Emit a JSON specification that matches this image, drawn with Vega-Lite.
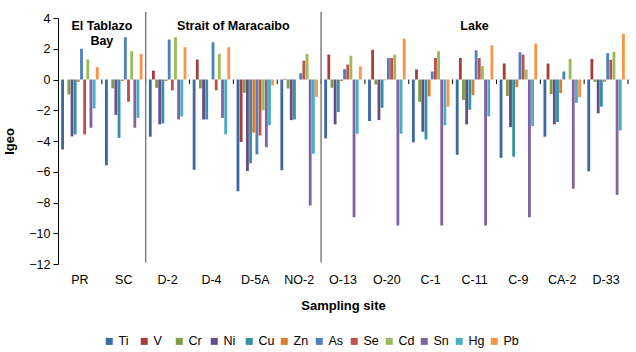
{
  "$schema": "https://vega.github.io/schema/vega-lite/v6.json",
  "width": 570,
  "height": 246,
  "autosize": {"type": "none"},
  "padding": {"left": 58, "top": 18, "right": 8, "bottom": 88},
  "background": "white",
  "config": {
    "view": {"stroke": null},
    "font": "Liberation Sans",
    "axis": {"grid": false, "labelColor": "#000", "titleColor": "#000"},
    "text": {"font": "Liberation Sans"}
  },
  "datasets": {
    "igeo": [
      {"site":"PR","metal":"Ti","igeo":-4.55},{"site":"PR","metal":"V","igeo":0},{"site":"PR","metal":"Cr","igeo":-0.97},{"site":"PR","metal":"Ni","igeo":-3.7},{"site":"PR","metal":"Cu","igeo":-3.57},{"site":"PR","metal":"Zn","igeo":-0.15},{"site":"PR","metal":"As","igeo":2.0},{"site":"PR","metal":"Se","igeo":-3.57},{"site":"PR","metal":"Cd","igeo":1.3},{"site":"PR","metal":"Sn","igeo":-3.14},{"site":"PR","metal":"Hg","igeo":-1.88},{"site":"PR","metal":"Pb","igeo":0.8},
      {"site":"SC","metal":"Ti","igeo":-5.58},{"site":"SC","metal":"V","igeo":0},{"site":"SC","metal":"Cr","igeo":-0.58},{"site":"SC","metal":"Ni","igeo":-2.3},{"site":"SC","metal":"Cu","igeo":-3.8},{"site":"SC","metal":"Zn","igeo":-0.1},{"site":"SC","metal":"As","igeo":2.75},{"site":"SC","metal":"Se","igeo":-1.45},{"site":"SC","metal":"Cd","igeo":1.84},{"site":"SC","metal":"Sn","igeo":-3.14},{"site":"SC","metal":"Hg","igeo":-2.5},{"site":"SC","metal":"Pb","igeo":1.67},
      {"site":"D-2","metal":"Ti","igeo":-3.72},{"site":"D-2","metal":"V","igeo":0.58},{"site":"D-2","metal":"Cr","igeo":-0.54},{"site":"D-2","metal":"Ni","igeo":-2.92},{"site":"D-2","metal":"Cu","igeo":-2.86},{"site":"D-2","metal":"Zn","igeo":-0.1},{"site":"D-2","metal":"As","igeo":2.6},{"site":"D-2","metal":"Se","igeo":-0.71},{"site":"D-2","metal":"Cd","igeo":2.75},{"site":"D-2","metal":"Sn","igeo":-2.6},{"site":"D-2","metal":"Hg","igeo":-2.4},{"site":"D-2","metal":"Pb","igeo":2.1},
      {"site":"D-4","metal":"Ti","igeo":-5.87},{"site":"D-4","metal":"V","igeo":1.3},{"site":"D-4","metal":"Cr","igeo":-0.58},{"site":"D-4","metal":"Ni","igeo":-2.6},{"site":"D-4","metal":"Cu","igeo":-2.6},{"site":"D-4","metal":"Zn","igeo":0},{"site":"D-4","metal":"As","igeo":2.42},{"site":"D-4","metal":"Se","igeo":-0.71},{"site":"D-4","metal":"Cd","igeo":1.67},{"site":"D-4","metal":"Sn","igeo":-2.5},{"site":"D-4","metal":"Hg","igeo":-3.57},{"site":"D-4","metal":"Pb","igeo":2.1},
      {"site":"D-5A","metal":"Ti","igeo":-7.27},{"site":"D-5A","metal":"V","igeo":-4.07},{"site":"D-5A","metal":"Cr","igeo":-0.87},{"site":"D-5A","metal":"Ni","igeo":-5.95},{"site":"D-5A","metal":"Cu","igeo":-5.45},{"site":"D-5A","metal":"Zn","igeo":-3.46},{"site":"D-5A","metal":"As","igeo":-4.87},{"site":"D-5A","metal":"Se","igeo":-3.64},{"site":"D-5A","metal":"Cd","igeo":-2.0},{"site":"D-5A","metal":"Sn","igeo":-4.4},{"site":"D-5A","metal":"Hg","igeo":-2.97},{"site":"D-5A","metal":"Pb","igeo":-0.39},
      {"site":"NO-2","metal":"Ti","igeo":-5.9},{"site":"NO-2","metal":"V","igeo":0.05},{"site":"NO-2","metal":"Cr","igeo":-0.58},{"site":"NO-2","metal":"Ni","igeo":-2.64},{"site":"NO-2","metal":"Cu","igeo":-2.6},{"site":"NO-2","metal":"Zn","igeo":0},{"site":"NO-2","metal":"As","igeo":0.41},{"site":"NO-2","metal":"Se","igeo":1.23},{"site":"NO-2","metal":"Cd","igeo":1.67},{"site":"NO-2","metal":"Sn","igeo":-8.2},{"site":"NO-2","metal":"Hg","igeo":-4.83},{"site":"NO-2","metal":"Pb","igeo":-1.13},
      {"site":"O-13","metal":"Ti","igeo":-3.83},{"site":"O-13","metal":"V","igeo":1.62},{"site":"O-13","metal":"Cr","igeo":-0.54},{"site":"O-13","metal":"Ni","igeo":-2.92},{"site":"O-13","metal":"Cu","igeo":-2.12},{"site":"O-13","metal":"Zn","igeo":-0.1},{"site":"O-13","metal":"As","igeo":0.67},{"site":"O-13","metal":"Se","igeo":0.97},{"site":"O-13","metal":"Cd","igeo":1.54},{"site":"O-13","metal":"Sn","igeo":-8.96},{"site":"O-13","metal":"Hg","igeo":-3.53},{"site":"O-13","metal":"Pb","igeo":0.84},
      {"site":"O-20","metal":"Ti","igeo":-2.7},{"site":"O-20","metal":"V","igeo":1.93},{"site":"O-20","metal":"Cr","igeo":-0.32},{"site":"O-20","metal":"Ni","igeo":-2.64},{"site":"O-20","metal":"Cu","igeo":-1.84},{"site":"O-20","metal":"Zn","igeo":-0.05},{"site":"O-20","metal":"As","igeo":1.4},{"site":"O-20","metal":"Se","igeo":1.4},{"site":"O-20","metal":"Cd","igeo":1.62},{"site":"O-20","metal":"Sn","igeo":-9.5},{"site":"O-20","metal":"Hg","igeo":-3.53},{"site":"O-20","metal":"Pb","igeo":2.66},
      {"site":"C-1","metal":"Ti","igeo":-4.09},{"site":"C-1","metal":"V","igeo":0.65},{"site":"C-1","metal":"Cr","igeo":-1.45},{"site":"C-1","metal":"Ni","igeo":-3.4},{"site":"C-1","metal":"Cu","igeo":-3.9},{"site":"C-1","metal":"Zn","igeo":-1.1},{"site":"C-1","metal":"As","igeo":0.52},{"site":"C-1","metal":"Se","igeo":1.4},{"site":"C-1","metal":"Cd","igeo":1.84},{"site":"C-1","metal":"Sn","igeo":-9.5},{"site":"C-1","metal":"Hg","igeo":-2.97},{"site":"C-1","metal":"Pb","igeo":-1.77},
      {"site":"C-11","metal":"Ti","igeo":-4.9},{"site":"C-11","metal":"V","igeo":1.4},{"site":"C-11","metal":"Cr","igeo":-1.34},{"site":"C-11","metal":"Ni","igeo":-2.92},{"site":"C-11","metal":"Cu","igeo":-1.97},{"site":"C-11","metal":"Zn","igeo":-1.02},{"site":"C-11","metal":"As","igeo":1.9},{"site":"C-11","metal":"Se","igeo":1.4},{"site":"C-11","metal":"Cd","igeo":0.87},{"site":"C-11","metal":"Sn","igeo":-9.5},{"site":"C-11","metal":"Hg","igeo":-2.4},{"site":"C-11","metal":"Pb","igeo":2.23},
      {"site":"C-9","metal":"Ti","igeo":-5.09},{"site":"C-9","metal":"V","igeo":1.04},{"site":"C-9","metal":"Cr","igeo":-1.08},{"site":"C-9","metal":"Ni","igeo":-3.1},{"site":"C-9","metal":"Cu","igeo":-5.02},{"site":"C-9","metal":"Zn","igeo":-0.5},{"site":"C-9","metal":"As","igeo":1.77},{"site":"C-9","metal":"Se","igeo":1.62},{"site":"C-9","metal":"Cd","igeo":0.65},{"site":"C-9","metal":"Sn","igeo":-8.96},{"site":"C-9","metal":"Hg","igeo":-3.03},{"site":"C-9","metal":"Pb","igeo":2.34},
      {"site":"CA-2","metal":"Ti","igeo":-3.72},{"site":"CA-2","metal":"V","igeo":1.04},{"site":"CA-2","metal":"Cr","igeo":-0.95},{"site":"CA-2","metal":"Ni","igeo":-2.92},{"site":"CA-2","metal":"Cu","igeo":-2.77},{"site":"CA-2","metal":"Zn","igeo":-0.89},{"site":"CA-2","metal":"As","igeo":0.52},{"site":"CA-2","metal":"Se","igeo":0},{"site":"CA-2","metal":"Cd","igeo":1.34},{"site":"CA-2","metal":"Sn","igeo":-7.1},{"site":"CA-2","metal":"Hg","igeo":-1.52},{"site":"CA-2","metal":"Pb","igeo":-1.15},
      {"site":"D-33","metal":"Ti","igeo":-5.97},{"site":"D-33","metal":"V","igeo":1.34},{"site":"D-33","metal":"Cr","igeo":-0.15},{"site":"D-33","metal":"Ni","igeo":-2.2},{"site":"D-33","metal":"Cu","igeo":-1.77},{"site":"D-33","metal":"Zn","igeo":-0.15},{"site":"D-33","metal":"As","igeo":1.71},{"site":"D-33","metal":"Se","igeo":1.28},{"site":"D-33","metal":"Cd","igeo":1.8},{"site":"D-33","metal":"Sn","igeo":-7.5},{"site":"D-33","metal":"Hg","igeo":-3.31},{"site":"D-33","metal":"Pb","igeo":2.97}
    ],
    "separators": [{"site": "D-2"}, {"site": "O-13"}],
    "boundaries": [{"site":"SC"},{"site":"D-2"},{"site":"D-4"},{"site":"D-5A"},{"site":"NO-2"},{"site":"O-13"},{"site":"O-20"},{"site":"C-1"},{"site":"C-11"},{"site":"C-9"},{"site":"CA-2"},{"site":"D-33"}],
    "endboundary": [{"site": "D-33"}],
    "regionsEdge": [{"site": "SC", "region": "El Tablazo\nBay"}, {"site": "D-5A", "region": "Strait of Maracaibo"}],
    "regionsMid": [{"site": "C-11", "region": "Lake"}]
  },
  "layer": [
    {
      "data": {"name": "igeo"},
      "mark": {"type": "bar"},
      "encoding": {
        "x": {
          "field": "site", "type": "nominal",
          "scale": {"domain": ["PR","SC","D-2","D-4","D-5A","NO-2","O-13","O-20","C-1","C-11","C-9","CA-2","D-33"], "paddingInner": 0, "paddingOuter": 0},
          "axis": {"title": "Sampling site", "labelAngle": 0, "domain": false, "ticks": false, "labelPadding": 9, "labelFontSize": 12.5, "titleFontSize": 13, "titleFontWeight": "bold", "titlePadding": 14}
        },
        "xOffset": {
          "field": "metal", "type": "nominal",
          "scale": {"domain": ["Ti","V","Cr","Ni","Cu","Zn","As","Se","Cd","Sn","Hg","Pb"], "paddingInner": 0.1, "paddingOuter": 1}
        },
        "y": {
          "field": "igeo", "type": "quantitative",
          "scale": {"domain": [-12, 4], "nice": false},
          "axis": {"title": "Igeo", "values": [-12,-10,-8,-6,-4,-2,0,2,4], "tickCount": 9, "labelOverlap": false, "domainColor": "#000", "tickColor": "#000", "tickSize": 5, "labelPadding": 3, "labelFontSize": 12.5, "titleFontSize": 13, "titleFontWeight": "bold", "titlePadding": 12}
        },
        "color": {
          "field": "metal", "type": "nominal",
          "scale": {
            "domain": ["Ti","V","Cr","Ni","Cu","Zn","As","Se","Cd","Sn","Hg","Pb"],
            "range": ["#3D69A3","#A53F3C","#7F9B45","#654D85","#3690A8","#DB7B2F","#4F81BD","#C0504D","#9BBB59","#8064A2","#4BACC6","#F79646"]
          },
          "legend": {
            "title": null, "orient": "none", "legendX": 45, "legendY": 317,
            "direction": "horizontal", "columns": 12, "gridAlign": "all",
            "columnPadding": 3, "symbolType": "square", "symbolSize": 49,
            "symbolStrokeWidth": 0, "labelFontSize": 12.5, "labelOffset": 3, "labelColor": "#000"
          }
        }
      }
    },
    {
      "mark": {"type": "rule", "color": "#000", "strokeWidth": 1.2, "strokeDash": [4, 3]},
      "encoding": {"y": {"datum": 2, "type": "quantitative", "axis": {"title": "Igeo", "values": [-12,-10,-8,-6,-4,-2,0,2,4], "tickCount": 9, "labelOverlap": false, "domainColor": "#000", "tickColor": "#000", "tickSize": 5, "labelPadding": 3, "labelFontSize": 12.5, "titleFontSize": 13, "titleFontWeight": "bold", "titlePadding": 12}}}
    },
    {
      "mark": {"type": "rule", "color": "#000", "strokeWidth": 1.2, "strokeDash": [4, 3]},
      "encoding": {"y": {"datum": 1, "type": "quantitative", "axis": {"title": "Igeo", "values": [-12,-10,-8,-6,-4,-2,0,2,4], "tickCount": 9, "labelOverlap": false, "domainColor": "#000", "tickColor": "#000", "tickSize": 5, "labelPadding": 3, "labelFontSize": 12.5, "titleFontSize": 13, "titleFontWeight": "bold", "titlePadding": 12}}}
    },
    {
      "mark": {"type": "rule", "color": "#000", "strokeWidth": 1},
      "encoding": {"y": {"datum": 0, "type": "quantitative", "axis": {"title": "Igeo", "values": [-12,-10,-8,-6,-4,-2,0,2,4], "tickCount": 9, "labelOverlap": false, "domainColor": "#000", "tickColor": "#000", "tickSize": 5, "labelPadding": 3, "labelFontSize": 12.5, "titleFontSize": 13, "titleFontWeight": "bold", "titlePadding": 12}}}
    },
    {
      "data": {"name": "boundaries"},
      "mark": {"type": "rule", "color": "#000", "strokeWidth": 1},
      "encoding": {
        "x": {"field": "site", "type": "nominal", "bandPosition": 0},
        "y": {"datum": 0, "type": "quantitative", "axis": {"title": "Igeo", "values": [-12,-10,-8,-6,-4,-2,0,2,4], "tickCount": 9, "labelOverlap": false, "domainColor": "#000", "tickColor": "#000", "tickSize": 5, "labelPadding": 3, "labelFontSize": 12.5, "titleFontSize": 13, "titleFontWeight": "bold", "titlePadding": 12}},
        "y2": {"datum": -0.3}
      }
    },
    {
      "data": {"name": "endboundary"},
      "mark": {"type": "rule", "color": "#000", "strokeWidth": 1},
      "encoding": {
        "x": {"field": "site", "type": "nominal", "bandPosition": 1},
        "y": {"datum": 0, "type": "quantitative", "axis": {"title": "Igeo", "values": [-12,-10,-8,-6,-4,-2,0,2,4], "tickCount": 9, "labelOverlap": false, "domainColor": "#000", "tickColor": "#000", "tickSize": 5, "labelPadding": 3, "labelFontSize": 12.5, "titleFontSize": 13, "titleFontWeight": "bold", "titlePadding": 12}},
        "y2": {"datum": -0.3}
      }
    },
    {
      "data": {"name": "separators"},
      "mark": {"type": "rule", "color": "#808080", "strokeWidth": 1.5},
      "encoding": {
        "x": {"field": "site", "type": "nominal", "bandPosition": 0},
        "y": {"datum": 4.4, "type": "quantitative", "axis": {"title": "Igeo", "values": [-12,-10,-8,-6,-4,-2,0,2,4], "tickCount": 9, "labelOverlap": false, "domainColor": "#000", "tickColor": "#000", "tickSize": 5, "labelPadding": 3, "labelFontSize": 12.5, "titleFontSize": 13, "titleFontWeight": "bold", "titlePadding": 12}},
        "y2": {"datum": -11.9}
      }
    },
    {
      "data": {"name": "regionsEdge"},
      "mark": {"type": "text", "fontWeight": "bold", "fontSize": 12.5, "baseline": "top", "align": "center", "lineHeight": 15, "lineBreak": "\n", "color": "#000"},
      "encoding": {
        "x": {"field": "site", "type": "nominal", "bandPosition": 0},
        "y": {"datum": 3.9, "type": "quantitative", "axis": {"title": "Igeo", "values": [-12,-10,-8,-6,-4,-2,0,2,4], "tickCount": 9, "labelOverlap": false, "domainColor": "#000", "tickColor": "#000", "tickSize": 5, "labelPadding": 3, "labelFontSize": 12.5, "titleFontSize": 13, "titleFontWeight": "bold", "titlePadding": 12}},
        "text": {"field": "region"}
      }
    },
    {
      "data": {"name": "regionsMid"},
      "mark": {"type": "text", "fontWeight": "bold", "fontSize": 12.5, "baseline": "top", "align": "center", "color": "#000"},
      "encoding": {
        "x": {"field": "site", "type": "nominal"},
        "y": {"datum": 3.9, "type": "quantitative", "axis": {"title": "Igeo", "values": [-12,-10,-8,-6,-4,-2,0,2,4], "tickCount": 9, "labelOverlap": false, "domainColor": "#000", "tickColor": "#000", "tickSize": 5, "labelPadding": 3, "labelFontSize": 12.5, "titleFontSize": 13, "titleFontWeight": "bold", "titlePadding": 12}},
        "text": {"field": "region"}
      }
    }
  ]
}
